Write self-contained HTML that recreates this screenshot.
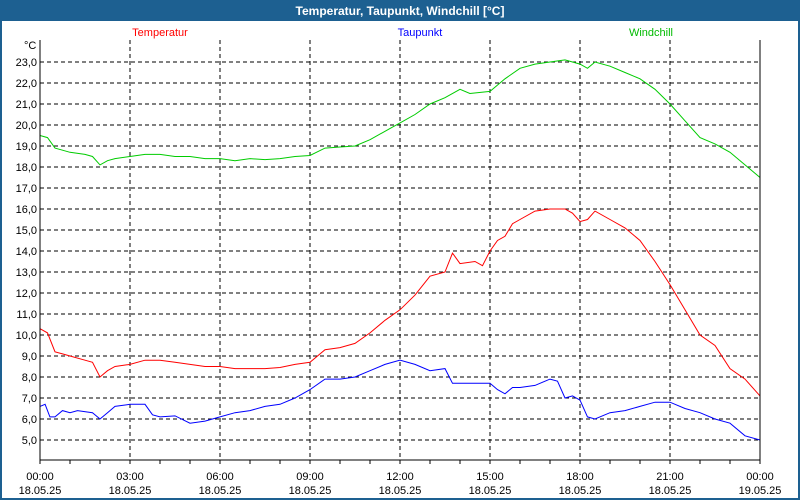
<!DOCTYPE html>
<html><head><meta charset="utf-8"><style>
body{margin:0;background:#fff}
svg{display:block;font-family:"Liberation Sans",sans-serif}
</style></head><body>
<svg id="c" width="800" height="500">
<rect x="0" y="0" width="800" height="500" fill="#1d6091"/>
<rect x="2" y="21" width="796" height="477" fill="#fff"/>
<text x="400" y="15" text-anchor="middle" fill="#fff" font-weight="bold" font-size="12">Temperatur, Taupunkt, Windchill [°C]</text>
<text x="160" y="36" text-anchor="middle" fill="#f00" font-size="11">Temperatur</text>
<text x="420" y="36" text-anchor="middle" fill="#00f" font-size="11">Taupunkt</text>
<text x="651" y="36" text-anchor="middle" fill="#0b0" font-size="11">Windchill</text>
<text x="24" y="49" fill="#000" font-size="11">°C</text>
<g id="grid"></g><g id="series"></g><g id="axes"></g>
</svg>
<script>
const tempT=[0,0.25,0.5,0.75,1,1.5,1.75,2,2.25,2.5,3,3.5,4,4.5,5,5.5,6,6.5,7,7.5,8,8.5,9,9.5,10,10.5,11,11.5,12,12.5,13,13.5,13.75,14,14.5,14.75,15,15.25,15.5,15.75,16,16.5,17,17.5,17.75,18,18.25,18.5,19,19.5,20,20.5,21,21.5,22,22.5,23,23.5,24];
const tempV=[10.3,10.1,9.2,9.1,9.0,8.8,8.7,8.0,8.3,8.5,8.6,8.8,8.8,8.7,8.6,8.5,8.5,8.4,8.4,8.4,8.45,8.6,8.7,9.3,9.4,9.6,10.1,10.7,11.2,11.9,12.8,13.0,13.9,13.4,13.5,13.3,14.0,14.5,14.7,15.3,15.5,15.9,16.0,16.0,15.8,15.4,15.5,15.9,15.5,15.1,14.5,13.5,12.4,11.2,10.0,9.5,8.4,7.9,7.1];
const dewT=[0,0.17,0.33,0.5,0.75,1,1.25,1.75,2,2.25,2.5,3,3.5,3.75,4,4.5,5,5.5,6,6.5,7,7.5,8,8.5,9,9.5,10,10.5,11,11.5,12,12.5,13,13.5,13.75,14,14.5,15,15.25,15.5,15.75,16,16.5,17,17.25,17.5,17.75,18,18.25,18.5,19,19.5,20,20.5,21,21.5,22,22.5,23,23.5,24];
const dewV=[6.6,6.7,6.1,6.1,6.4,6.3,6.4,6.3,6.0,6.3,6.6,6.7,6.7,6.2,6.1,6.15,5.8,5.9,6.1,6.3,6.4,6.6,6.7,7.0,7.4,7.9,7.9,8.0,8.3,8.6,8.8,8.6,8.3,8.4,7.7,7.7,7.7,7.7,7.4,7.2,7.5,7.5,7.6,7.9,7.8,7.0,7.1,6.9,6.1,6.0,6.3,6.4,6.6,6.8,6.8,6.5,6.3,6.0,5.8,5.2,5.0];
const wcT=[0,0.25,0.5,0.75,1,1.5,1.75,2,2.25,2.5,3,3.5,4,4.5,5,5.5,6,6.5,7,7.5,8,8.5,9,9.5,10,10.5,11,11.5,12,12.5,13,13.5,14,14.33,15,15.5,16,16.5,17,17.5,18,18.25,18.5,19,19.5,20,20.5,21,21.5,22,22.5,23,23.5,24];
const wcV=[19.5,19.4,18.9,18.8,18.7,18.6,18.5,18.1,18.3,18.4,18.5,18.6,18.6,18.5,18.5,18.4,18.4,18.3,18.4,18.35,18.4,18.5,18.55,18.9,18.95,19.0,19.3,19.7,20.1,20.5,21.0,21.3,21.7,21.5,21.6,22.2,22.7,22.9,23.0,23.1,22.9,22.7,23.0,22.8,22.5,22.2,21.7,21.0,20.2,19.4,19.1,18.7,18.1,17.5];
const yTicks=[5,6,7,8,9,10,11,12,13,14,15,16,17,18,19,20,21,22,23];
const xTicks=[0,3,6,9,12,15,18,21,24];
const xLabels=["00:00","03:00","06:00","09:00","12:00","15:00","18:00","21:00","00:00"];
const dLabels=["18.05.25","18.05.25","18.05.25","18.05.25","18.05.25","18.05.25","18.05.25","18.05.25","19.05.25"];
const X0=40,X1=760,Y0=40,Y1=460;
const xs=h=>X0+h*(X1-X0)/24;
const ys=v=>62+(23-v)*21;
const NS="http://www.w3.org/2000/svg";
function mk(tag,attrs,parent){const e=document.createElementNS(NS,tag);for(const k in attrs)e.setAttribute(k,attrs[k]);parent.appendChild(e);return e;}
const grid=document.getElementById('grid'),axes=document.getElementById('axes'),ser=document.getElementById('series');
yTicks.forEach(v=>{
 const l=mk('line',{x1:X0,x2:X1,y1:ys(v),y2:ys(v),stroke:'#000','stroke-dasharray':'4,3','stroke-width':1},grid);
 
 
 const t=mk('text',{x:X0-3,y:ys(v)+4,'text-anchor':'end','font-size':11},axes);
 t.textContent=v.toFixed(1).replace('.',',');
 
 
});
xTicks.forEach((h,i)=>{
 if(h>0&&h<24){const l=mk('line',{x1:xs(h),x2:xs(h),y1:Y0,y2:Y1,stroke:'#000','stroke-dasharray':'4,3'},grid);
 
 }
 const t=mk('text',{x:xs(h),y:480,'text-anchor':'middle','font-size':11},axes);
 t.textContent=xLabels[i];
 
 
 const d=mk('text',{x:xs(h),y:494,'text-anchor':'middle','font-size':11},axes);
 d.textContent=dLabels[i];
 
 
});
for(let h=0;h<=24;h++){const l=mk('line',{x1:xs(h),x2:xs(h),y1:Y1,y2:Y1+4,stroke:'#000'},axes);
 
 }
const ax=mk('path',{d:`M${X0},${Y0}V${Y1}H${X1}V${Y0}`,fill:'none',stroke:'#000'},axes);


function line(T,V,c,n){const p=mk('polyline',{points:T.map((t,i)=>xs(t)+','+ys(V[i])).join(' '),fill:'none',stroke:c,'stroke-width':1},ser);
 
 }
line(wcT,wcV,'#0c0','windchill-line');
line(tempT,tempV,'#f00','temperatur-line');
line(dewT,dewV,'#00f','taupunkt-line');
</script>
</body></html>
